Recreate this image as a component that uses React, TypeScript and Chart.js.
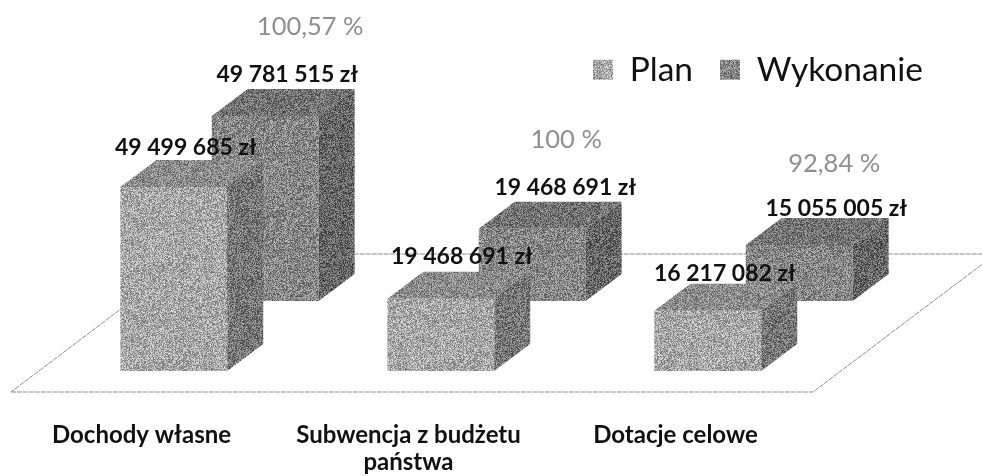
import React, { useEffect, useRef } from "react";
import { Chart, registerables } from "chart.js";

Chart.register(...registerables);

const categories: (string | string[])[] = [
  "Dochody własne",
  ["Subwencja z budżetu", "państwa"],
  "Dotacje celowe",
];
const planValues = [49499685, 19468691, 16217082];
const wykonanieValues = [49781515, 19468691, 15055005];
const percentLabels = ["100,57 %", "100 %", "92,84 %"];

const planLabelShiftX = [12, 21, 17];
const planLabelShiftY = [-39, -42, -37];
const wykLabelShiftX = [22, 33, 37];
const wykLabelShiftY = [-41, -41, -36];
const pctShiftX = [45, 34, 35];
const pctShiftY = [-89, -89, -81];

const FONT = "Lato, Calibri, sans-serif";
const DEPTH_X = 36;
const DEPTH_Y = -27;
const Y_MAX = 74000000;
const REAR_SHIFT = 18830000;

const formatZl = (v: number) =>
  String(v).replace(/\B(?=(\d{3})+(?!\d))/g, " ") + " zł";

function grain(base: number, amp: number): CanvasPattern | string {
  const size = 97;
  const c = document.createElement("canvas");
  c.width = size;
  c.height = size;
  const g = c.getContext("2d");
  if (!g) return `rgb(${base},${base},${base})`;
  const img = g.createImageData(size, size);
  let s = 12345 + base;
  for (let i = 0; i < size * size; i++) {
    s = (s * 1103515245 + 12345) & 0x7fffffff;
    const t = ((s >> 12) & 255) / 255 - 0.5;
    const v = Math.max(0, Math.min(255, base + t * amp * 2));
    img.data[i * 4] = v;
    img.data[i * 4 + 1] = v;
    img.data[i * 4 + 2] = v;
    img.data[i * 4 + 3] = 255;
  }
  g.putImageData(img, 0, 0);
  return g.createPattern(c, "repeat") as CanvasPattern;
}

export default function App() {
  const ref = useRef<HTMLCanvasElement>(null);
  useEffect(() => {
    if (!ref.current) return;
    const faces = [
      { top: grain(140, 50), side: grain(118, 55) },
      { top: grain(114, 50), side: grain(102, 55) },
    ];
    const poly = (ctx: CanvasRenderingContext2D, fill: any, pts: number[][]) => {
      ctx.beginPath();
      pts.forEach(([x, y], i) => (i ? ctx.lineTo(x, y) : ctx.moveTo(x, y)));
      ctx.closePath();
      ctx.fillStyle = fill;
      ctx.fill();
    };
    const box3d = {
      id: "box3d",
      beforeDatasetsDraw(chart: any) {
        const { ctx } = chart;
        const plan = chart.getDatasetMeta(0).data[0];
        const rear = chart.getDatasetMeta(1).data[0];
        const bottom = plan.base + 21;
        const top = rear.base - 47;
        const slope = 0.755;
        const run = (bottom - top) / slope;
        const xl = 11;
        const xr = 813;
        ctx.save();
        ctx.strokeStyle = "#8c8c8c";
        ctx.lineWidth = 1;
        ctx.setLineDash([5, 1]);
        ctx.beginPath();
        ctx.moveTo(xl, bottom);
        ctx.lineTo(xr, bottom);
        ctx.lineTo(xr + run, top);
        ctx.lineTo(xl + run, top);
        ctx.closePath();
        ctx.stroke();
        ctx.restore();
      },
      afterDatasetDraw(chart: any, args: any) {
        const { ctx } = chart;
        const f = faces[args.index];
        ctx.save();
        args.meta.data.forEach((el: any) => {
          const l = el.x - el.width / 2;
          const r = el.x + el.width / 2;
          poly(ctx, f.top, [
            [l, el.y],
            [l + DEPTH_X, el.y + DEPTH_Y],
            [r + DEPTH_X, el.y + DEPTH_Y],
            [r, el.y],
          ]);
          poly(ctx, f.side, [
            [r, el.y],
            [r + DEPTH_X, el.y + DEPTH_Y],
            [r + DEPTH_X, el.base + DEPTH_Y],
            [r, el.base],
          ]);
        });
        ctx.restore();
      },
      afterDatasetsDraw(chart: any) {
        const { ctx } = chart;
        ctx.save();
        ctx.textAlign = "center";
        ctx.textBaseline = "middle";
        ctx.fillStyle = "#111";
        ctx.font = `bold 23px ${FONT}`;
        chart.getDatasetMeta(0).data.forEach((el: any, i: number) => {
          ctx.fillText(formatZl(planValues[i]), el.x + planLabelShiftX[i], el.y + planLabelShiftY[i]);
        });
        chart.getDatasetMeta(1).data.forEach((el: any, i: number) => {
          ctx.fillStyle = "#111";
          ctx.font = `bold 23px ${FONT}`;
          ctx.fillText(formatZl(wykonanieValues[i]), el.x + wykLabelShiftX[i], el.y + wykLabelShiftY[i]);
          ctx.fillStyle = "#8f8f8f";
          ctx.font = `25.5px ${FONT}`;
          ctx.fillText(percentLabels[i], el.x + pctShiftX[i], el.y + pctShiftY[i]);
        });
        ctx.restore();
      },
    };
    const chart = new Chart(ref.current, {
      type: "bar",
      data: {
        labels: categories as any,
        datasets: [
          {
            label: "Plan",
            data: planValues,
            backgroundColor: grain(168, 55) as any,
            borderWidth: 0,
            yAxisID: "y",
            clip: false as any,
          },
          {
            label: "Wykonanie",
            data: wykonanieValues,
            backgroundColor: grain(135, 55) as any,
            borderWidth: 0,
            yAxisID: "y2",
            clip: false as any,
          },
        ],
      },
      options: {
        animation: false,
        responsive: false,
        categoryPercentage: 183 / 267.3,
        barPercentage: 107 / 91.5,
        layout: { padding: { top: 26, left: 86, right: 32, bottom: 0 } },
        plugins: {
          tooltip: { enabled: false },
          legend: {
            position: "top",
            align: "end",
            maxHeight: 70,
            labels: {
              boxWidth: 20,
              boxHeight: 20,
              padding: 27,
              color: "#111",
              font: { family: FONT, size: 33.5 },
            },
          },
        },
        scales: {
          x: {
            grid: { display: false, drawTicks: false },
            border: { display: false },
            afterFit: (s: any) => {
              s.height = 105;
            },
            ticks: {
              autoSkip: false,
              maxRotation: 0,
              minRotation: 0,
              labelOffset: -78,
              padding: 50,
              color: "#111",
              font: { family: FONT, size: 24, weight: "bold", lineHeight: 1.15 },
            },
          },
          y: { display: false, min: 0, max: Y_MAX },
          y2: {
            position: "right",
            min: -REAR_SHIFT,
            max: Y_MAX - REAR_SHIFT,
            grid: { display: false },
            border: { display: false },
            ticks: { display: false },
            afterFit: (s: any) => {
              s.width = 63;
            },
          },
        },
      } as any,
      plugins: [box3d],
    });
    return () => chart.destroy();
  }, []);
  return (
    <div style={{ position: "absolute", left: 0, top: 0, width: 982, height: 476, background: "#fff" }}>
      <canvas ref={ref} width={982} height={476} style={{ display: "block" }} />
    </div>
  );
}
